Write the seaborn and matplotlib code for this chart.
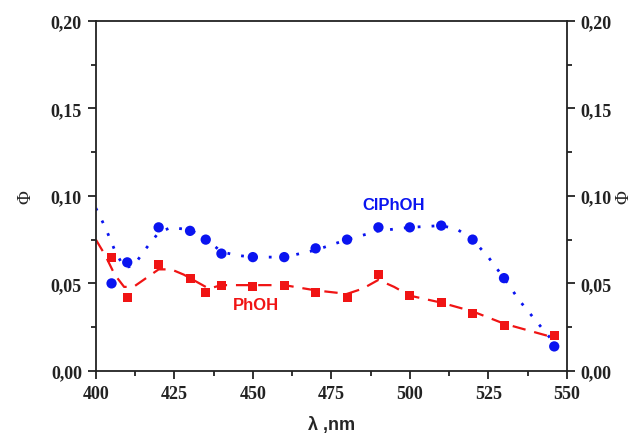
import matplotlib
matplotlib.use("Agg")
import matplotlib.pyplot as plt
import seaborn as sns
import pandas as pd
from matplotlib.ticker import MultipleLocator, FuncFormatter

# measured points
cl_x = [405, 410, 420, 430, 435, 440, 450, 460, 470, 480, 490, 500, 510, 520, 530, 546]
cl_y = [0.050, 0.062, 0.082, 0.080, 0.075, 0.067, 0.065, 0.065, 0.070, 0.075, 0.082, 0.082, 0.083, 0.075, 0.053, 0.014]
ph_x = [405, 410, 420, 430, 435, 440, 450, 460, 470, 480, 490, 500, 510, 520, 530, 546]
ph_y = [0.065, 0.042, 0.061, 0.053, 0.045, 0.049, 0.048, 0.049, 0.045, 0.042, 0.055, 0.043, 0.039, 0.033, 0.026, 0.020]

# smoothed fit curves
cl_fit_x = [400, 403, 406, 409, 412, 416, 420, 424, 428, 432, 436, 440, 445, 450, 460, 470, 480, 490, 500, 510, 515, 520, 525, 530, 535, 540, 546]
cl_fit_y = [0.093, 0.082, 0.069, 0.059, 0.060, 0.070, 0.079, 0.082, 0.081, 0.079, 0.074, 0.068, 0.066, 0.065, 0.065, 0.069, 0.075, 0.080, 0.082, 0.083, 0.081, 0.075, 0.065, 0.053, 0.040, 0.029, 0.016]
ph_fit_x = [400, 403, 406, 409, 412, 416, 420, 424, 428, 432, 436, 440, 445, 450, 460, 470, 480, 485, 490, 495, 500, 510, 520, 530, 540, 546]
ph_fit_y = [0.075, 0.066, 0.055, 0.048, 0.048, 0.053, 0.058, 0.058, 0.055, 0.051, 0.047, 0.049, 0.049, 0.049, 0.049, 0.046, 0.044, 0.047, 0.052, 0.048, 0.043, 0.039, 0.034, 0.027, 0.022, 0.019]

x_ticks = [400, 425, 450, 475, 500, 525, 550]
y_ticks = [0.00, 0.05, 0.10, 0.15, 0.20]

sns.set_style("ticks")
plt.rcParams['font.family'] = ['Liberation Serif', 'DejaVu Serif']

fig = plt.figure(figsize=(6.39, 4.35), dpi=100)
ax = fig.add_axes([0.150, 0.145, 0.737, 0.805])

blue = "#0a14f0"
red = "#f01414"

sns.lineplot(x=cl_fit_x, y=cl_fit_y, ax=ax, color=blue, linestyle=(0, (1, 4)), linewidth=2.0, sort=False)
sns.lineplot(x=ph_fit_x, y=ph_fit_y, ax=ax, color=red, linestyle=(0, (6, 4)), linewidth=1.6, sort=False)
sns.scatterplot(x=cl_x, y=cl_y, ax=ax, color=blue, marker="o", s=55, edgecolor="none", zorder=3)
sns.scatterplot(x=ph_x, y=ph_y, ax=ax, color=red, marker="s", s=42, edgecolor="none", zorder=3)

ax.set_xlim(400, 550)
ax.set_ylim(0, 0.20)
ax.set_xticks(x_ticks)
ax.set_yticks(y_ticks)
ax.xaxis.set_minor_locator(MultipleLocator(12.5))
ax.yaxis.set_minor_locator(MultipleLocator(0.025))
fmt = FuncFormatter(lambda v, p: f"{v:.2f}".replace(".", ","))
ax.yaxis.set_major_formatter(fmt)

for s in ax.spines.values():
    s.set_linewidth(1.3)
    s.set_color("#222222")
    s.set_visible(True)

ax.tick_params(axis='both', which='major', direction='out', length=6, width=1.3, colors="#222222",
               labelsize=13, labelcolor="#222222", pad=4)
ax.tick_params(axis='both', which='minor', direction='out', length=3.5, width=1.3, colors="#222222")
ax.tick_params(axis='y', which='both', left=True, right=True, labelleft=True, labelright=True)
ax.tick_params(axis='x', which='both', top=False)
for t in ax.xaxis.get_major_ticks():
    t.label1.set_fontweight('bold')
for t in ax.yaxis.get_major_ticks():
    t.label1.set_fontweight('bold')
    t.label2.set_fontweight('bold')

ax.set_xlabel("λ ,nm", fontsize=13, fontweight='bold', family=['Liberation Sans', 'DejaVu Sans'], labelpad=10)
ax.set_ylabel("Φ", fontsize=13.5, labelpad=12)
fig.text(0.977, 0.547, "Φ", rotation=90, fontsize=13.5, va='center', ha='center')

ax.text(495, 0.095, "ClPhOH", color=blue, fontsize=12, fontweight='bold',
        family=['Liberation Sans', 'DejaVu Sans'], ha='center', va='center')
ax.text(451, 0.038, "PhOH", color=red, fontsize=12, fontweight='bold',
        family=['Liberation Sans', 'DejaVu Sans'], ha='center', va='center')

fig.savefig("out.png", dpi=100)
